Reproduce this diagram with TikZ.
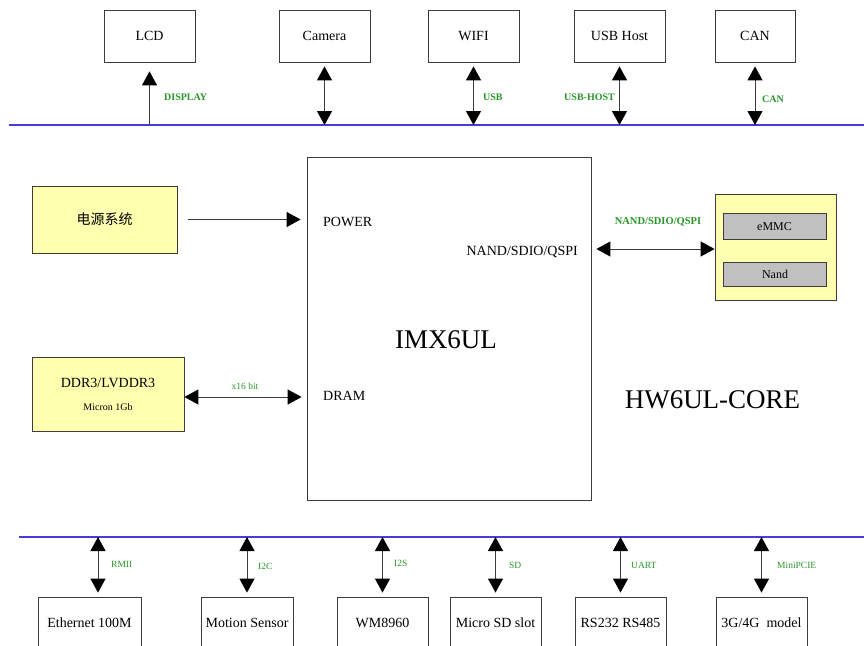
\documentclass[tikz,border=0pt]{standalone}
\usepackage{fontspec}
\setmainfont{Liberation Serif}
\newfontfamily\cjkfont{Noto Sans CJK SC}
\usetikzlibrary{arrows.meta, positioning}
\definecolor{BUS}{RGB}{70,60,215}
\definecolor{LBL}{RGB}{40,150,40}
\definecolor{LY}{RGB}{255,255,176}
\definecolor{LGR}{RGB}{192,192,192}
\definecolor{DG}{RGB}{60,60,60}

\begin{document}
\begin{tikzpicture}[x=1pt, y=-1pt,
  blk/.style={draw=DG, line width=0.8pt, minimum width=#1, minimum height=52pt, inner sep=0pt, font=\fontsize{14}{16}\selectfont},
  blk/.default=91pt,
  ybox/.style={blk=#1, fill=LY},
  gbox/.style={draw=DG, line width=0.8pt, fill=LGR, minimum width=103pt, minimum height=26pt, inner sep=0pt, font=\fontsize{12}{14}\selectfont},
  pin/.style={inner sep=0pt, font=\fontsize{14}{16}\selectfont},
  sig/.style={text=LBL, inner sep=0pt, font=\fontsize{9.5}{11}\selectfont},
  sigb/.style={text=LBL, inner sep=0pt, font=\bfseries\fontsize{10}{11}\selectfont},
  bus/.style={draw=BUS, line width=1.2pt},
  lnk/.style={draw=DG, line width=1pt, -{Triangle[length=14pt,width=15pt,color=black]}},
  bi/.style={lnk, {Triangle[length=14pt,width=15pt,color=black]}-{Triangle[length=14pt,width=15pt,color=black]}}
]
\useasboundingbox (0,0) rectangle (864,645);
\clip (0,0) rectangle (864,645);

% Buses
\coordinate (bt) at (9,125);
\coordinate (bte) at (864,125);
\coordinate (bb) at (19,537);
\coordinate (bbe) at (864,537);
\draw[bus] (bt) -- (bte);
\draw[bus] (bb) -- (bbe);

% Top peripherals
\node[blk] (lcd)  at (149.5,36) {LCD};
\node[blk] (cam)  at (324.5,36) {Camera};
\node[blk] (wifi) at (473.5,36) {WIFI};
\node[blk] (usbh) at (619.5,36) {USB Host};
\node[blk=80pt] (can) at (755,36) {CAN};

\draw[lnk, shorten >=9pt] (lcd.south |- bt) -- (lcd.south);
\foreach \n in {cam,wifi,usbh,can}
  \draw[bi, shorten >=4pt] (\n.south |- bt) -- (\n.south);

\node[sigb, anchor=west] (ldisp) at (164,97) {DISPLAY};
\node[sigb, anchor=west] (lusb)  at (483,97) {USB};
\node[sigb, anchor=east] (lusbh) at (615,97) {USB-HOST};
\node[sigb, anchor=west] (lcan)  at (762,99) {CAN};

% Processor
\node[draw=DG, line width=0.8pt, minimum width=284pt, minimum height=343pt] (imx) at (449,328.5) {};
\node[font=\fontsize{27}{30}\selectfont] (chip) at (446,340) {IMX6UL};
\node[pin, anchor=west] (ppow)  at (323,222) {POWER};
\node[pin, anchor=east] (pnand) at (578,252) {NAND/SDIO/QSPI};
\node[pin, anchor=west] (pdram) at (323,396) {DRAM};

% Power and memory
\node[ybox=145pt, minimum height=67pt, font=\cjkfont\fontsize{14}{16}\selectfont] (pwr) at (104.5,219.5) {电源系统};
\node[ybox=152pt, minimum height=74pt] (ddr) at (108,394) {};
\node[pin] (ddrname) at (108,383) {DDR3/LVDDR3};
\node[inner sep=0pt, font=\fontsize{10}{12}\selectfont] (ddrsize) at (108,407) {Micron 1Gb};

\draw[lnk, shorten <=11pt, shorten >=6pt] (pwr.east) -- (pwr.east -| imx.west);
\draw[bi, shorten >=5pt] ([yshift=-3pt]ddr.east) -- ([yshift=-3pt]ddr.east -| imx.west);
\node[sig] (lddr) at (245,386) {x16 bit};

% Flash
\node[draw=DG, line width=0.8pt, fill=LY, minimum width=121pt, minimum height=106pt] (flash) at (775.5,247) {};
\node[gbox] (emmc) at (774.5,226.5) {eMMC};
\node[gbox, minimum height=24pt] (nand) at (775,274) {Nand};
\draw[bi, shorten <=5pt] ([yshift=-2pt]flash.west -| imx.east) -- ([yshift=-2pt]flash.west);
\node[sigb, font=\bfseries\fontsize{10.5}{12}\selectfont] (lnand) at (658,222) {NAND/SDIO/QSPI};

\node[font=\fontsize{27}{30}\selectfont] (board) at (712.5,400) {HW6UL-CORE};

% Bottom peripherals
\node[blk=103pt] (eth)    at (89.5,623)  {Ethernet 100M};
\node[blk=92pt]  (motion) at (247,623)   {Motion Sensor};
\node[blk]       (codec)  at (382.5,623) {WM8960};
\node[blk]       (sdslot) at (495.5,623) {Micro SD slot};
\node[blk]       (serial) at (620.5,623) {RS232 RS485};
\node[blk]       (modem)  at (761.5,623) {3G/4G\enspace model};

\draw[bi, shorten >=4pt] ([xshift=8.5pt]eth.north |- bb) -- ([xshift=8.5pt]eth.north);
\foreach \n in {motion,codec,sdslot,serial,modem}
  \draw[bi, shorten >=4pt] (\n.north |- bb) -- (\n.north);

\node[sig, anchor=west] (lrmii) at (111,564) {RMII};
\node[sig, anchor=west] (li2c)  at (258,566) {I2C};
\node[sig, anchor=west] (li2s)  at (394,563) {I2S};
\node[sig, anchor=west] (lsd)   at (509,565) {SD};
\node[sig, anchor=west] (luart) at (631,565) {UART};
\node[sig, anchor=west] (lpcie) at (777,565) {MiniPCIE};
\end{tikzpicture}
\end{document}
